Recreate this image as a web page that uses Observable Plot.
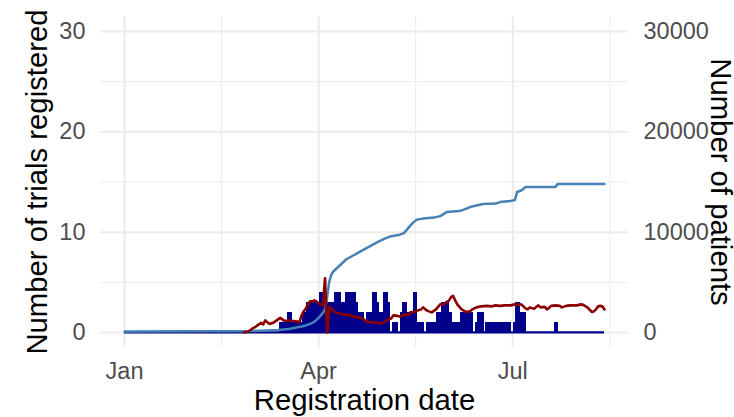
<!DOCTYPE html>
<html><head><meta charset="utf-8">
<script src="https://cdn.jsdelivr.net/npm/d3@7"></script>
<script src="https://cdn.jsdelivr.net/npm/@observablehq/plot@0.6"></script>
<style>body{margin:0;background:#fff;}</style>
</head><body><div id="chart"></div>
<script>
// Daily number of trials registered (non-zero days only)
const trialDates = ["2020-03-14","2020-03-15","2020-03-16","2020-03-17","2020-03-18","2020-03-19","2020-03-20","2020-03-21","2020-03-22","2020-03-23","2020-03-24","2020-03-25","2020-03-26","2020-03-27","2020-03-28","2020-03-29","2020-03-30","2020-03-31","2020-04-01","2020-04-02","2020-04-03","2020-04-04","2020-04-05","2020-04-06","2020-04-07","2020-04-08","2020-04-09","2020-04-10","2020-04-11","2020-04-12","2020-04-13","2020-04-14","2020-04-15","2020-04-16","2020-04-17","2020-04-18","2020-04-19","2020-04-20","2020-04-21","2020-04-22","2020-04-23","2020-04-24","2020-04-25","2020-04-26","2020-04-27","2020-04-28","2020-04-29","2020-04-30","2020-05-01","2020-05-02","2020-05-03","2020-05-04","2020-05-06","2020-05-07","2020-05-08","2020-05-10","2020-05-11","2020-05-12","2020-05-13","2020-05-14","2020-05-15","2020-05-16","2020-05-17","2020-05-18","2020-05-19","2020-05-20","2020-05-22","2020-05-23","2020-05-24","2020-05-25","2020-05-26","2020-05-27","2020-05-28","2020-05-29","2020-05-30","2020-05-31","2020-06-01","2020-06-02","2020-06-03","2020-06-04","2020-06-05","2020-06-06","2020-06-07","2020-06-08","2020-06-09","2020-06-10","2020-06-11","2020-06-12","2020-06-14","2020-06-15","2020-06-16","2020-06-17","2020-06-19","2020-06-20","2020-06-21","2020-06-22","2020-06-23","2020-06-24","2020-06-25","2020-06-26","2020-06-27","2020-06-28","2020-06-29","2020-06-30","2020-07-02","2020-07-03","2020-07-04","2020-07-05","2020-07-06","2020-07-07","2020-07-21","2020-07-22"];
const trialCounts = [1,1,1,1,2,2,1,1,1,1,1,2,2,3,3,3,3,3,3,4,4,4,3,3,3,3,4,4,4,3,3,4,4,4,4,4,3,2,2,2,1,2,2,2,4,4,3,2,2,4,4,3,1,1,1,2,3,3,2,2,2,4,4,1,1,1,1,1,1,1,1,2,2,3,3,3,3,2,1,1,1,1,2,2,2,2,2,2,1,2,2,2,1,1,1,1,1,1,1,1,1,1,1,1,1,3,3,2,2,2,1,1];
const seriesStart = "2020-01-01";
const seriesEnd = "2020-08-13";

// Cumulative number of patients (right axis)
const patientDates = ["2020-01-01","2020-03-01","2020-03-13","2020-03-18","2020-03-24","2020-03-26","2020-03-28","2020-03-30","2020-04-01","2020-04-02","2020-04-03","2020-04-04","2020-04-05","2020-04-06","2020-04-07","2020-04-08","2020-04-10","2020-04-12","2020-04-14","2020-04-17","2020-04-20","2020-04-23","2020-04-26","2020-04-29","2020-05-02","2020-05-05","2020-05-09","2020-05-11","2020-05-13","2020-05-15","2020-05-17","2020-05-20","2020-05-25","2020-05-28","2020-05-31","2020-06-06","2020-06-08","2020-06-11","2020-06-14","2020-06-17","2020-06-23","2020-06-25","2020-06-30","2020-07-02","2020-07-03","2020-07-05","2020-07-07","2020-07-21","2020-07-22","2020-08-13"];
const cumulativePatients = [100,150,250,350,600,700,850,1050,1450,1700,1950,2300,3500,5100,5800,6100,6500,6900,7300,7650,8000,8350,8700,9050,9350,9600,9750,9900,10400,10900,11250,11350,11450,11600,12000,12100,12250,12500,12650,12800,12850,13000,13100,13200,14000,14150,14500,14500,14800,14800];
const patientsPerUnit = 1000;

// Dark red smoothed series (left axis units)
const redDates = ["2020-02-26","2020-02-28","2020-03-01","2020-03-02","2020-03-04","2020-03-05","2020-03-06","2020-03-07","2020-03-08","2020-03-09","2020-03-11","2020-03-13","2020-03-14","2020-03-15","2020-03-16","2020-03-18","2020-03-20","2020-03-22","2020-03-23","2020-03-24","2020-03-25","2020-03-26","2020-03-27","2020-03-28","2020-03-29","2020-03-30","2020-03-31","2020-04-01","2020-04-02","2020-04-03","2020-04-04","2020-04-05","2020-04-06","2020-04-07","2020-04-08","2020-04-09","2020-04-10","2020-04-12","2020-04-14","2020-04-16","2020-04-18","2020-04-20","2020-04-22","2020-04-23","2020-04-25","2020-04-27","2020-04-29","2020-04-30","2020-05-01","2020-05-02","2020-05-03","2020-05-05","2020-05-06","2020-05-08","2020-05-09","2020-05-10","2020-05-11","2020-05-12","2020-05-13","2020-05-14","2020-05-16","2020-05-17","2020-05-19","2020-05-20","2020-05-21","2020-05-22","2020-05-24","2020-05-26","2020-05-28","2020-05-30","2020-05-31","2020-06-01","2020-06-02","2020-06-03","2020-06-04","2020-06-05","2020-06-07","2020-06-09","2020-06-11","2020-06-12","2020-06-14","2020-06-16","2020-06-19","2020-06-21","2020-06-23","2020-06-25","2020-06-27","2020-06-30","2020-07-02","2020-07-04","2020-07-05","2020-07-06","2020-07-07","2020-07-08","2020-07-09","2020-07-11","2020-07-12","2020-07-13","2020-07-14","2020-07-16","2020-07-17","2020-07-18","2020-07-19","2020-07-21","2020-07-23","2020-07-24","2020-07-26","2020-07-28","2020-07-31","2020-08-02","2020-08-03","2020-08-05","2020-08-07","2020-08-08","2020-08-09","2020-08-10","2020-08-11","2020-08-12","2020-08-13"];
const redValues = [0,0.1,0.4,0.5,0.8,0.95,0.8,1.2,1.0,0.85,1.0,1.3,1.45,1.3,1.15,1.2,1.15,1.1,1.0,1.7,2.1,2.4,2.8,3.1,3.1,3.2,3.1,2.9,2.8,2.7,5.4,0,2.5,2.4,2.1,2.0,1.95,1.8,1.75,1.7,1.55,1.5,1.35,1.1,1.05,1.0,0.95,0.85,0.95,1.05,1.25,1.4,1.7,1.65,1.6,1.6,1.8,1.75,1.75,2.0,2.05,2.15,2.3,2.5,2.3,2.15,2.0,2.3,2.8,2.8,3.05,3.15,3.5,3.65,3.2,2.8,2.3,2.05,2.1,2.3,2.5,2.6,2.65,2.6,2.7,2.65,2.7,2.7,2.8,2.75,2.8,2.6,2.4,2.3,2.5,2.35,2.55,2.7,2.5,2.55,2.3,2.45,2.65,2.7,2.65,2.5,2.65,2.7,2.7,2.8,2.75,2.5,2.05,2.1,2.3,2.6,2.65,2.6,2.3];

// Axes
const xTickDates = ["2020-01-01","2020-04-01","2020-07-01"];
const xTickLabels = ["Jan","Apr","Jul"];
const xMinorDates = ["2020-02-15T12:00Z","2020-05-16T12:00Z","2020-08-15T12:00Z"];
const yTicks = [0,10,20,30];
const yMinorTicks = [5,15,25];
const rightTickLabels = ["0","10000","20000","30000"];
const xTitle = "Registration date";
const yTitle = "Number of trials registered";
const y2Title = "Number of patients";

const parse = s => new Date(s);
const DAY = 864e5;
const bars = trialDates.map((d,i)=>({date: parse(d), count: trialCounts[i]}));
const patients = patientDates.map((d,i)=>({date: parse(d), value: cumulativePatients[i]}));
const red = redDates.map((d,i)=>({date: parse(d), value: redValues[i]}));
const start = parse(seriesStart), end = parse(seriesEnd);
const pad = (end - start) * 0.05;
const xLabelMap = new Map(xTickDates.map((d,i)=>[+parse(d), xTickLabels[i]]));

const tickFont = 23.5, titleFont = 29.3, grey = "#4d4d4d";

const chart = Plot.plot({
  width: 734, height: 417,
  marginLeft: 100, marginRight: 106, marginTop: 16, marginBottom: 70,
  style: {fontFamily: "'Liberation Sans', Arial, Helvetica, sans-serif", background: "#ffffff"},
  x: {type: "utc", domain: [new Date(+start - pad), new Date(+end + pad)]},
  y: {domain: [-1.5, 31.5]},
  marks: [
    Plot.gridY(yMinorTicks, {stroke: "#ebebeb", strokeOpacity: 1, strokeWidth: 1}),
    Plot.gridX(xMinorDates.map(parse), {stroke: "#ebebeb", strokeOpacity: 1, strokeWidth: 1}),
    Plot.gridY(yTicks, {stroke: "#ebebeb", strokeOpacity: 1, strokeWidth: 2}),
    Plot.gridX(xTickDates.map(parse), {stroke: "#ebebeb", strokeOpacity: 1, strokeWidth: 2}),
    Plot.rectY(bars, {x1: d => new Date(+d.date - DAY*0.56), x2: d => new Date(+d.date + DAY*0.56), y1: 0, y2: "count", fill: "#00008b", shapeRendering: "crispEdges"}),
    Plot.ruleY([0], {x1: start, x2: end, stroke: "#00008b", strokeWidth: 2.2}),
    Plot.lineY(patients, {x: "date", y: d => d.value / patientsPerUnit, stroke: "#4682b4", strokeWidth: 2.5}),
    Plot.lineY(red, {x: "date", y: "value", stroke: "#8b0000", strokeWidth: 2.6}),
    Plot.axisX(xTickDates.map(parse), {tickSize: 0, tickPadding: 15, fontSize: tickFont, fill: grey, label: null, tickFormat: d => xLabelMap.get(+d)}),
    Plot.axisY(yTicks, {anchor: "left", tickSize: 0, tickPadding: 15, fontSize: tickFont, fill: grey, label: null}),
    Plot.axisY(yTicks, {anchor: "right", tickSize: 0, tickPadding: 15, fontSize: tickFont, fill: grey, label: null, tickFormat: d => rightTickLabels[yTicks.indexOf(d)]}),
    Plot.text([xTitle], {frameAnchor: "bottom", textAnchor: "middle", lineAnchor: "middle", dy: 53, fontSize: titleFont, fill: "#000", text: d => d}),
    Plot.text([yTitle], {frameAnchor: "left", textAnchor: "middle", lineAnchor: "middle", rotate: -90, dx: -63, fontSize: titleFont, fill: "#000", text: d => d}),
    Plot.text([y2Title], {frameAnchor: "right", textAnchor: "middle", lineAnchor: "middle", rotate: 90, dx: 92, fontSize: titleFont, fill: "#000", text: d => d})
  ]
});
document.getElementById("chart").appendChild(chart);
</script>
</body></html>
